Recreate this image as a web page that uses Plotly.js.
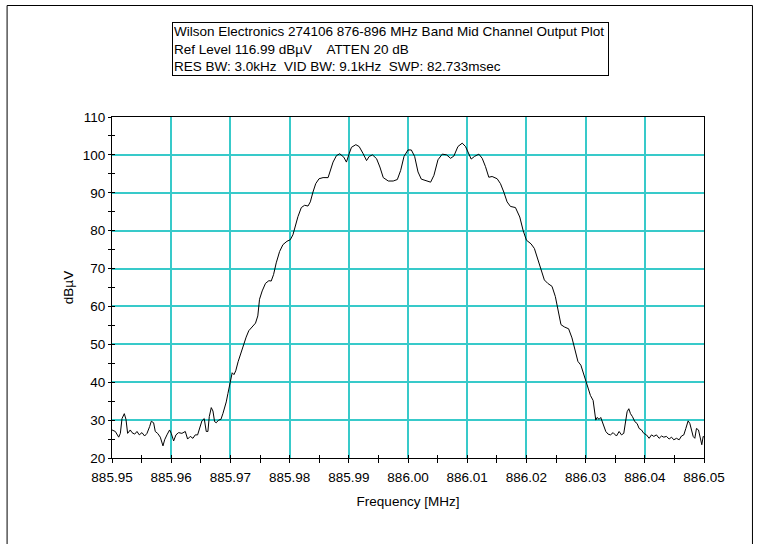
<!DOCTYPE html>
<html>
<head>
<meta charset="utf-8">
<script src="https://cdn.plot.ly/plotly-3.0.1.min.js"></script>
<style>
  html, body { margin: 0; padding: 0; background: #ffffff; }
  #chart { width: 763px; height: 544px; }
</style>
</head>
<body>
<div id="chart"></div>
<script>
// Spectrum analyser sweep, 885.95 - 886.05 MHz, level in dBµV.
// Lower noise floor and start of the lower skirt
const lowerFreq = [885.95000, 885.95056, 885.95113, 885.95141, 885.95169, 885.95208, 885.95236, 885.95264,
  885.95309, 885.95338, 885.95383, 885.95422, 885.95461, 885.95506, 885.95551, 885.95591, 885.95636,
  885.95664, 885.95703, 885.95731, 885.95771, 885.95816, 885.95861, 885.95889, 885.95928, 885.95973,
  885.96001, 885.96041, 885.96080, 885.96125, 885.96181, 885.96238, 885.96277, 885.96322, 885.96367,
  885.96406, 885.96446, 885.96480, 885.96519, 885.96558, 885.96592, 885.96620, 885.96643, 885.96677,
  885.96705, 885.96733, 885.96761, 885.96800, 885.96840, 885.96873, 885.96902, 885.96930, 885.96958,
  885.96986, 885.97000, 885.97030, 885.97060, 885.97090, 885.97130, 885.97170, 885.97220];
const lowerLevel = [27.4, 27.0, 25.5, 26.5, 30.4, 31.7, 30.2, 26.5,
  27.4, 26.7, 26.3, 27.0, 26.1, 26.7, 25.8, 26.5, 28.3,
  29.7, 29.3, 27.0, 26.5, 25.5, 23.2, 24.8, 26.1, 27.4,
  26.5, 24.5, 26.1, 26.7, 26.5, 27.0, 25.0, 25.7, 25.2,
  26.1, 26.1, 27.8, 29.8, 30.4, 27.0, 27.0, 30.9, 33.3,
  32.4, 29.6, 29.3, 30.0, 30.2, 31.7, 33.0, 34.8, 37.0,
  39.1, 40.5, 42.5, 42.0, 43.0, 45.4, 47.5, 49.5];

// Channel passband
const bandFreq = [885.97266, 885.97311, 885.97379, 885.97424, 885.97463, 885.97492, 885.97537, 885.97593,
  885.97650, 885.97689, 885.97729, 885.97774, 885.97831, 885.97887, 885.97955, 885.98011, 885.98056,
  885.98102, 885.98141, 885.98198, 885.98254, 885.98311, 885.98350, 885.98395, 885.98441, 885.98497,
  885.98565, 885.98650, 885.98689, 885.98734, 885.98791, 885.98847, 885.98915, 885.98960, 885.99006,
  885.99045, 885.99119, 885.99175, 885.99243, 885.99300, 885.99345, 885.99400, 885.99469, 885.99525,
  885.99582, 885.99667, 885.99750, 885.99820, 885.99876, 885.99933, 886.00000, 886.00056, 886.00112,
  886.00169, 886.00225, 886.00298, 886.00382, 886.00438, 886.00506, 886.00579, 886.00652, 886.00719,
  886.00775, 886.00843, 886.00916, 886.00972, 886.01028, 886.01067, 886.01124, 886.01197, 886.01253,
  886.01309, 886.01365, 886.01421, 886.01506, 886.01562, 886.01618, 886.01674, 886.01730, 886.01815,
  886.01888, 886.01944, 886.02000, 886.02079, 886.02135, 886.02191, 886.02247, 886.02303, 886.02360,
  886.02433, 886.02489, 886.02545, 886.02584, 886.02640, 886.02713, 886.02770];
const bandLevel = [51.9, 53.6, 54.9, 55.6, 57.5, 61.9, 64.1, 66.1,
  66.8, 66.7, 68.4, 71.5, 74.5, 76.3, 77.2, 77.6, 78.9,
  81.5, 83.7, 86.1, 86.7, 86.5, 87.6, 90.2, 92.4, 93.7,
  94.0, 94.0, 95.9, 98.1, 99.8, 100.3, 99.4, 98.1, 100.3,
  102.0, 102.7, 102.2, 100.3, 98.5, 99.6, 100.0, 99.0, 96.8,
  94.0, 93.1, 93.1, 93.5, 95.9, 99.6, 101.3, 101.3, 99.6,
  95.5, 93.6, 93.3, 92.8, 94.6, 98.7, 100.2, 100.0, 99.1,
  99.7, 102.2, 103.1, 102.2, 100.0, 98.9, 99.6, 100.2, 99.1,
  96.9, 94.1, 94.3, 93.7, 92.4, 90.2, 87.6, 86.4, 86.1,
  83.6, 80.1, 77.5, 76.5, 75.3, 72.7, 70.1, 67.0, 66.1,
  65.3, 62.6, 58.7, 55.2, 54.6, 54.1, 51.7];

// End of the upper skirt and upper noise floor
const upperFreq = [886.02820, 886.02870, 886.02920, 886.02960, 886.03003, 886.03042, 886.03082, 886.03127,
  886.03155, 886.03172, 886.03194, 886.03228, 886.03256, 886.03296, 886.03341, 886.03380, 886.03420,
  886.03465, 886.03521, 886.03566, 886.03606, 886.03645, 886.03673, 886.03701, 886.03730, 886.03758,
  886.03792, 886.03831, 886.03870, 886.03904, 886.03944, 886.03983, 886.04028, 886.04073, 886.04113,
  886.04152, 886.04197, 886.04242, 886.04282, 886.04321, 886.04366, 886.04411, 886.04451, 886.04490,
  886.04535, 886.04580, 886.04620, 886.04659, 886.04693, 886.04732, 886.04761, 886.04789, 886.04817,
  886.04845, 886.04873, 886.04907, 886.04941, 886.04963, 886.04986, 886.05000];
const upperLevel = [48.5, 45.5, 44.5, 42.5, 40.0, 38.3, 36.5, 35.2,
  32.6, 30.0, 30.7, 30.2, 30.7, 28.7, 27.0, 26.3, 26.1,
  26.7, 25.8, 27.0, 26.1, 26.5, 29.1, 32.2, 33.0, 31.7,
  30.9, 29.6, 29.1, 27.8, 27.4, 26.5, 26.1, 25.2, 26.1,
  25.7, 26.1, 25.2, 25.8, 25.5, 25.7, 25.0, 25.5, 24.8,
  25.2, 24.8, 25.8, 26.1, 27.8, 29.8, 29.1, 27.4, 25.7,
  25.2, 27.8, 27.4, 25.2, 23.5, 25.7, 25.5];

// Axis settings
const freqRange = [885.95, 886.05];
const levelRange = [20, 110];
const headerLines = [
  'Wilson Electronics 274106 876-896 MHz Band Mid Channel Output Plot',
  'Ref Level 116.99 dBµV    ATTEN 20 dB',
  'RES BW: 3.0kHz  VID BW: 9.1kHz  SWP: 82.733msec'
];
const xTitle = 'Frequency [MHz]';
const yTitle = 'dBµV';

const freq = lowerFreq.concat(bandFreq, upperFreq);
const level = lowerLevel.concat(bandLevel, upperLevel);

const FONT = 'Liberation Sans, Arial, sans-serif';
const GRID = '#38caca';

// plot-area geometry in pixels, used to place the header box and page frame
const M = { l: 111.5, r: 59, t: 117, b: 86 };
const W = 763, H = 544;
const pw = W - M.l - M.r, ph = H - M.t - M.b;
const px = p => (p - M.l) / pw;
const py = p => (H - M.b - p) / ph;

const trace = {
  x: freq, y: level,
  type: 'scatter', mode: 'lines',
  line: { color: '#000000', width: 1 },
  hoverinfo: 'x+y'
};

// overlay axes carry the inward half of each tick mark
const tickTrace = {
  x: [freq[0]], y: [level[0]], xaxis: 'x2', yaxis: 'y2',
  type: 'scatter', mode: 'none', hoverinfo: 'skip', showlegend: false
};

const baseX = {
  range: freqRange, tick0: 885.95, dtick: 0.01, tickformat: '.2f',
  showline: true, linecolor: '#000000', linewidth: 1, mirror: true,
  showgrid: true, gridcolor: GRID, gridwidth: 2, zeroline: false,
  ticks: 'outside', ticklen: 4, tickcolor: '#000000', tickwidth: 1,
  minor: { dtick: 0.005, ticks: 'outside', ticklen: 4, tickcolor: '#000000', showgrid: false },
  ticklabelstandoff: 3,
  tickfont: { family: FONT, size: 13.5, color: '#000000' },
  title: { text: xTitle, font: { family: FONT, size: 13.5, color: '#000000' }, standoff: 12 },
  fixedrange: true
};
const baseY = {
  range: levelRange, tick0: 20, dtick: 10,
  showline: true, linecolor: '#000000', linewidth: 1, mirror: true,
  showgrid: true, gridcolor: GRID, gridwidth: 2, zeroline: false,
  ticks: 'outside', ticklen: 3, tickcolor: '#000000', tickwidth: 1,
  minor: { dtick: 5, ticks: 'outside', ticklen: 3, tickcolor: '#000000', showgrid: false },
  ticklabelstandoff: 0,
  tickfont: { family: FONT, size: 13.5, color: '#000000' },
  title: { text: yTitle, font: { family: FONT, size: 13.5, color: '#000000' }, standoff: 6 },
  fixedrange: true
};

const layout = {
  width: W, height: H,
  margin: M,
  paper_bgcolor: '#ffffff', plot_bgcolor: '#ffffff',
  showlegend: false,
  xaxis: baseX,
  yaxis: baseY,
  xaxis2: {
    overlaying: 'x', anchor: 'y2', range: freqRange, tick0: 885.95, dtick: 0.005,
    showticklabels: false, showgrid: false, zeroline: false, showline: false,
    ticks: 'inside', ticklen: 3, tickcolor: '#000000', fixedrange: true
  },
  yaxis2: {
    overlaying: 'y', anchor: 'x2', range: levelRange, tick0: 20, dtick: 5,
    showticklabels: false, showgrid: false, zeroline: false, showline: false,
    ticks: 'inside', ticklen: 3, tickcolor: '#000000', fixedrange: true
  },
  annotations: [{
    xref: 'paper', yref: 'paper',
    x: px(172), y: py(22), xanchor: 'left', yanchor: 'top',
    text: headerLines.join('<br>'),
    align: 'left', showarrow: false,
    width: 433,
    font: { family: FONT, size: 13.5, color: '#000000' },
    bordercolor: '#000000', borderwidth: 1, borderpad: 1,
    bgcolor: '#ffffff'
  }],
  shapes: [{
    type: 'rect', xref: 'paper', yref: 'paper',
    x0: px(6.5), x1: px(752.5), y0: py(560), y1: py(5.5),
    line: { color: '#000000', width: 1 }, fillcolor: 'rgba(0,0,0,0)', layer: 'below'
  }]
};

Plotly.newPlot('chart', [trace, tickTrace], layout, { displayModeBar: false, staticPlot: true });
</script>
</body>
</html>
